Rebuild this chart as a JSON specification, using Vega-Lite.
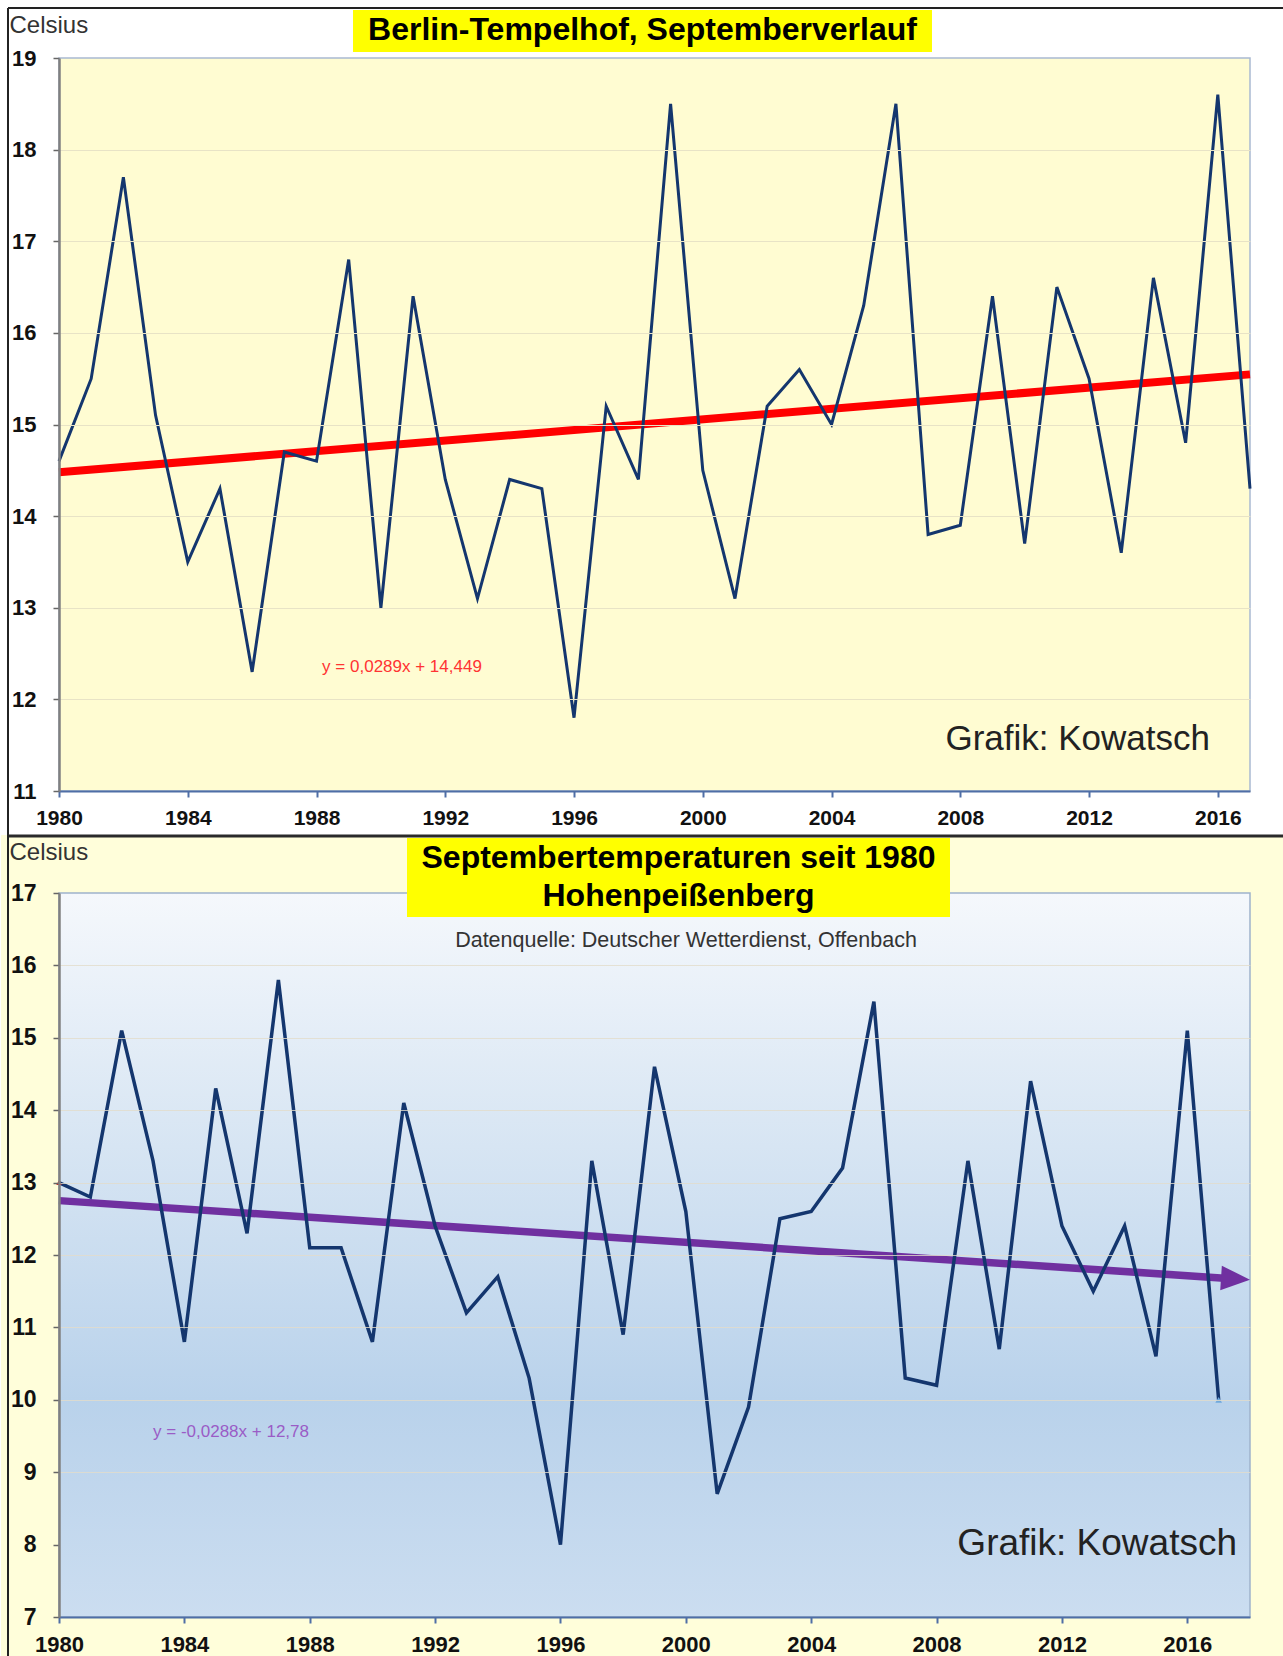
{
  "$schema": "https://vega.github.io/schema/vega-lite/v6.json",
  "padding": 0,
  "background": "#FFFFFF",
  "autosize": {"type": "pad"},
  "spacing": 102,
  "bounds": "flush",
  "config": {
    "font": "Liberation Sans",
    "view": {"stroke": null},
    "axis": {
      "labelFont": "Liberation Sans",
      "labelFontWeight": "bold",
      "labelColor": "#111111",
      "labelFlush": false,
      "labelOverlap": false,
      "titleFont": "Liberation Sans",
      "titleFontWeight": "normal",
      "titleColor": "#333333",
      "titleFontSize": 24
    }
  },
  "datasets": {
    "decor": [{"item": "annotation"}],
    "berlin": [
      {"year": 1980, "temp": 14.6}, {"year": 1981, "temp": 15.5}, {"year": 1982, "temp": 17.7}, {"year": 1983, "temp": 15.1},
      {"year": 1984, "temp": 13.5}, {"year": 1985, "temp": 14.3}, {"year": 1986, "temp": 12.3}, {"year": 1987, "temp": 14.7},
      {"year": 1988, "temp": 14.6}, {"year": 1989, "temp": 16.8}, {"year": 1990, "temp": 13.0}, {"year": 1991, "temp": 16.4},
      {"year": 1992, "temp": 14.4}, {"year": 1993, "temp": 13.1}, {"year": 1994, "temp": 14.4}, {"year": 1995, "temp": 14.3},
      {"year": 1996, "temp": 11.8}, {"year": 1997, "temp": 15.2}, {"year": 1998, "temp": 14.4}, {"year": 1999, "temp": 18.5},
      {"year": 2000, "temp": 14.5}, {"year": 2001, "temp": 13.1}, {"year": 2002, "temp": 15.2}, {"year": 2003, "temp": 15.6},
      {"year": 2004, "temp": 15.0}, {"year": 2005, "temp": 16.3}, {"year": 2006, "temp": 18.5}, {"year": 2007, "temp": 13.8},
      {"year": 2008, "temp": 13.9}, {"year": 2009, "temp": 16.4}, {"year": 2010, "temp": 13.7}, {"year": 2011, "temp": 16.5},
      {"year": 2012, "temp": 15.5}, {"year": 2013, "temp": 13.6}, {"year": 2014, "temp": 16.6}, {"year": 2015, "temp": 14.8},
      {"year": 2016, "temp": 18.6}, {"year": 2017, "temp": 14.3}
    ],
    "hpb": [
      {"year": 1980, "temp": 13.0}, {"year": 1981, "temp": 12.8}, {"year": 1982, "temp": 15.1}, {"year": 1983, "temp": 13.3},
      {"year": 1984, "temp": 10.8}, {"year": 1985, "temp": 14.3}, {"year": 1986, "temp": 12.3}, {"year": 1987, "temp": 15.8},
      {"year": 1988, "temp": 12.1}, {"year": 1989, "temp": 12.1}, {"year": 1990, "temp": 10.8}, {"year": 1991, "temp": 14.1},
      {"year": 1992, "temp": 12.4}, {"year": 1993, "temp": 11.2}, {"year": 1994, "temp": 11.7}, {"year": 1995, "temp": 10.3},
      {"year": 1996, "temp": 8.0}, {"year": 1997, "temp": 13.3}, {"year": 1998, "temp": 10.9}, {"year": 1999, "temp": 14.6},
      {"year": 2000, "temp": 12.6}, {"year": 2001, "temp": 8.7}, {"year": 2002, "temp": 9.9}, {"year": 2003, "temp": 12.5},
      {"year": 2004, "temp": 12.6}, {"year": 2005, "temp": 13.2}, {"year": 2006, "temp": 15.5}, {"year": 2007, "temp": 10.3},
      {"year": 2008, "temp": 10.2}, {"year": 2009, "temp": 13.3}, {"year": 2010, "temp": 10.7}, {"year": 2011, "temp": 14.4},
      {"year": 2012, "temp": 12.4}, {"year": 2013, "temp": 11.5}, {"year": 2014, "temp": 12.4}, {"year": 2015, "temp": 10.6},
      {"year": 2016, "temp": 15.1}, {"year": 2017, "temp": 10.0}
    ],
    "berlin_trend": [{"year": 1980, "temp": 14.478}, {"year": 2017, "temp": 15.547}],
    "hpb_trend": [{"year": 1980, "temp": 12.751}, {"year": 2017.3, "temp": 11.677}]
  },
  "vconcat": [
    {
      "width": 1191,
      "height": 733,
      "layer": [
        {
          "data": {"name": "decor"},
          "mark": {"type": "rect", "color": "#FFFFFF"},
          "encoding": {
            "x": {"datum": 1978.1981, "type": "quantitative"}, "x2": {"datum": 2018.0565},
            "y": {"datum": 19.633, "type": "quantitative"}, "y2": {"datum": 10.5198}
          }
        },
        {
          "data": {"name": "decor"},
          "mark": {"type": "rule", "color": "#222222", "strokeWidth": 2},
          "encoding": {
            "x": {"datum": 1978.4156, "type": "quantitative"}, "x2": {"datum": 2018.0565},
            "y": {"datum": 19.5457, "type": "quantitative"}
          }
        },
        {
          "data": {"name": "decor"},
          "mark": {"type": "rule", "color": "#222222", "strokeWidth": 2},
          "encoding": {
            "x": {"datum": 1978.4156, "type": "quantitative"},
            "y": {"datum": 19.5457, "type": "quantitative"}, "y2": {"datum": 10.5198}
          }
        },
        {
          "data": {"name": "decor"},
          "mark": {"type": "rect", "color": "#FFFCD2", "stroke": "#A9B9D2", "strokeWidth": 1.5},
          "encoding": {
            "x": {"datum": 1980, "type": "quantitative"}, "x2": {"datum": 2017},
            "y": {"datum": 19, "type": "quantitative"}, "y2": {"datum": 11}
          }
        },
        {
          "data": {"name": "decor"},
          "mark": {"type": "rect", "color": "#FFFF00"},
          "encoding": {
            "x": {"datum": 1989.1335, "type": "quantitative"}, "x2": {"datum": 2007.1207},
            "y": {"datum": 19.5239, "type": "quantitative"}, "y2": {"datum": 19.0655}
          }
        },
        {
          "data": {"name": "decor"},
          "mark": {"type": "text", "text": "Berlin-Tempelhof, Septemberverlauf", "font": "Liberation Sans", "fontWeight": "bold", "fontSize": 32, "color": "#000000", "align": "center", "baseline": "alphabetic"},
          "encoding": {
            "x": {"datum": 1998.1273, "type": "quantitative"},
            "y": {"datum": 19.1965, "type": "quantitative"}
          }
        },
        {
          "data": {"name": "berlin_trend"},
          "mark": {"type": "line", "color": "#FF0000", "strokeWidth": 8},
          "encoding": {
            "x": {"field": "year", "type": "quantitative"},
            "y": {"field": "temp", "type": "quantitative"}
          }
        },
        {
          "data": {"name": "berlin"},
          "mark": {"type": "line", "color": "#14366E", "strokeWidth": 3},
          "encoding": {
            "x": {
              "field": "year", "type": "quantitative",
              "scale": {"domain": [1980, 2017], "nice": false, "zero": false},
              "axis": {
                "zindex": 2,
                "title": null, "values": [1980, 1984, 1988, 1992, 1996, 2000, 2004, 2008, 2012, 2016], "format": "d",
                "grid": false, "tickSize": 6, "tickWidth": 2, "tickColor": "#4F6EA6",
                "domainColor": "#4F6EA6", "domainWidth": 2, "labelFontSize": 21, "labelPadding": 10
              }
            },
            "y": {
              "field": "temp", "type": "quantitative",
              "scale": {"domain": [11, 19], "nice": false, "zero": false},
              "axis": {
                "zindex": 2,
                "title": "Celsius", "titleAngle": 0, "titleAlign": "left", "titleBaseline": "alphabetic",
                "titleX": -50, "titleY": -26,
                "values": [11, 12, 13, 14, 15, 16, 17, 18, 19], "format": "d",
                "grid": true, "gridColor": "#E8E3C6",
                "gridOpacity": {"condition": {"test": "datum.value >= 19", "value": 0}, "value": 1},
                "tickSize": 6, "tickWidth": 1.5, "tickColor": "#666666",
                "domainColor": "#808080", "domainWidth": 2.5, "labelFontSize": 22, "labelPadding": 17
              }
            }
          }
        },
        {
          "data": {"name": "decor"},
          "mark": {"type": "text", "text": "y = 0,0289x + 14,449", "fontSize": 17, "color": "#FF3333", "align": "center", "baseline": "middle"},
          "encoding": {
            "x": {"datum": 1990.6557, "type": "quantitative"},
            "y": {"datum": 12.353, "type": "quantitative"}
          }
        },
        {
          "data": {"name": "decor"},
          "mark": {"type": "text", "text": "Grafik: Kowatsch", "fontSize": 35, "color": "#222222", "align": "right", "baseline": "alphabetic"},
          "encoding": {
            "x": {"datum": 2015.7577, "type": "quantitative"},
            "y": {"datum": 11.4475, "type": "quantitative"}
          }
        }
      ]
    },
    {
      "width": 1191,
      "height": 724,
      "layer": [
        {
          "data": {"name": "decor"},
          "mark": {"type": "rect", "color": "#FFFEDA"},
          "encoding": {
            "x": {"datum": 1978.1494, "type": "quantitative"}, "x2": {"datum": 2019.0852},
            "y": {"datum": 17.8011, "type": "quantitative"}, "y2": {"datum": -3.5387}
          }
        },
        {
          "data": {"name": "decor"},
          "mark": {
            "type": "rect", "stroke": "#9FB2CC", "strokeWidth": 1.5,
            "color": {"gradient": "linear", "x1": 0, "y1": 0, "x2": 0, "y2": 1,
              "stops": [
                {"offset": 0, "color": "#F5F8FC"},
                {"offset": 0.35, "color": "#D7E5F3"},
                {"offset": 0.7, "color": "#B9D2EB"},
                {"offset": 1, "color": "#CBDDF0"}
              ]}
          },
          "encoding": {
            "x": {"datum": 1980, "type": "quantitative"}, "x2": {"datum": 2018},
            "y": {"datum": 17, "type": "quantitative"}, "y2": {"datum": 7}
          }
        },
        {
          "data": {"name": "decor"},
          "mark": {"type": "rule", "color": "#2A2A2A", "strokeWidth": 3},
          "encoding": {
            "x": {"datum": 1978.3728, "type": "quantitative"}, "x2": {"datum": 2019.0852},
            "y": {"datum": 17.7873, "type": "quantitative"}
          }
        },
        {
          "data": {"name": "decor"},
          "mark": {"type": "rule", "color": "#222222", "strokeWidth": 2},
          "encoding": {
            "x": {"datum": 1978.3728, "type": "quantitative"},
            "y": {"datum": 17.8011, "type": "quantitative"}, "y2": {"datum": -3.5387}
          }
        },
        {
          "data": {"name": "decor"},
          "mark": {"type": "rect", "color": "#FFFF00"},
          "encoding": {
            "x": {"datum": 1991.1033, "type": "quantitative"}, "x2": {"datum": 2008.4283},
            "y": {"datum": 17.7597, "type": "quantitative"}, "y2": {"datum": 16.6685}
          }
        },
        {
          "data": {"name": "decor"},
          "mark": {"type": "text", "text": ["Septembertemperaturen seit 1980", "Hohenpeißenberg"], "lineHeight": 38, "font": "Liberation Sans", "fontWeight": "bold", "fontSize": 32, "color": "#000000", "align": "center", "baseline": "alphabetic"},
          "encoding": {
            "x": {"datum": 1999.7658, "type": "quantitative"},
            "y": {"datum": 17.3453, "type": "quantitative"}
          }
        },
        {
          "data": {"name": "decor"},
          "mark": {"type": "text", "text": "Datenquelle: Deutscher Wetterdienst, Offenbach", "fontSize": 21.5, "color": "#333333", "align": "center", "baseline": "alphabetic"},
          "encoding": {
            "x": {"datum": 2000.0051, "type": "quantitative"},
            "y": {"datum": 16.2541, "type": "quantitative"}
          }
        },
        {
          "data": {"name": "hpb_trend"},
          "mark": {"type": "line", "color": "#7030A0", "strokeWidth": 7.5},
          "encoding": {
            "x": {"field": "year", "type": "quantitative"},
            "y": {"field": "temp", "type": "quantitative"}
          }
        },
        {
          "data": {"name": "decor"},
          "mark": {"type": "point", "shape": "M-1,-0.85L1,0L-1,0.85Z", "size": 841, "filled": true, "opacity": 1, "color": "#7030A0", "angle": 3.8},
          "encoding": {
            "x": {"datum": 2017.5374, "type": "quantitative"},
            "y": {"datum": 11.6701, "type": "quantitative"}
          }
        },
        {
          "data": {"name": "hpb"},
          "mark": {"type": "line", "color": "#14366E", "strokeWidth": 3.5},
          "encoding": {
            "x": {
              "field": "year", "type": "quantitative",
              "scale": {"domain": [1980, 2018], "nice": false, "zero": false},
              "axis": {
                "zindex": 2,
                "title": null, "values": [1980, 1984, 1988, 1992, 1996, 2000, 2004, 2008, 2012, 2016], "format": "d",
                "grid": false, "tickSize": 6, "tickWidth": 2, "tickColor": "#4F6EA6",
                "domainColor": "#4F6EA6", "domainWidth": 2, "labelFontSize": 22, "labelPadding": 11
              }
            },
            "y": {
              "field": "temp", "type": "quantitative",
              "scale": {"domain": [7, 17], "nice": false, "zero": false},
              "axis": {
                "zindex": 2,
                "title": "Celsius", "titleAngle": 0, "titleAlign": "left", "titleBaseline": "alphabetic",
                "titleX": -50, "titleY": -34,
                "values": [7, 8, 9, 10, 11, 12, 13, 14, 15, 16, 17], "format": "d",
                "grid": true, "gridColor": "#E2DCCB",
                "gridOpacity": {"condition": {"test": "datum.value >= 17 || datum.value == 8", "value": 0}, "value": 0.8},
                "tickSize": 6, "tickWidth": 1.5, "tickColor": "#666666",
                "domainColor": "#808080", "domainWidth": 2.5, "labelFontSize": 23, "labelPadding": 17
              }
            }
          }
        },
        {
          "data": {"name": "hpb"},
          "transform": [{"filter": "datum.year == 1980"}],
          "mark": {"type": "point", "shape": "triangle-up", "size": 30, "filled": true, "opacity": 1, "color": "#E02020"},
          "encoding": {
            "x": {"field": "year", "type": "quantitative"},
            "y": {"field": "temp", "type": "quantitative"}
          }
        },
        {
          "data": {"name": "hpb"},
          "transform": [{"filter": "datum.year == 2017"}],
          "mark": {"type": "point", "shape": "triangle-up", "size": 45, "filled": true, "opacity": 1, "color": "#6FA8DC"},
          "encoding": {
            "x": {"field": "year", "type": "quantitative"},
            "y": {"field": "temp", "type": "quantitative"}
          }
        },
        {
          "data": {"name": "decor"},
          "mark": {"type": "text", "text": "y = -0,0288x + 12,78", "fontSize": 17, "color": "#9A5CC6", "align": "center", "baseline": "middle"},
          "encoding": {
            "x": {"datum": 1985.4878, "type": "quantitative"},
            "y": {"datum": 9.555, "type": "quantitative"}
          }
        },
        {
          "data": {"name": "decor"},
          "mark": {"type": "text", "text": "Grafik: Kowatsch", "fontSize": 37, "color": "#222222", "align": "right", "baseline": "alphabetic"},
          "encoding": {
            "x": {"datum": 2017.5858, "type": "quantitative"},
            "y": {"datum": 7.8564, "type": "quantitative"}
          }
        }
      ]
    }
  ]
}
